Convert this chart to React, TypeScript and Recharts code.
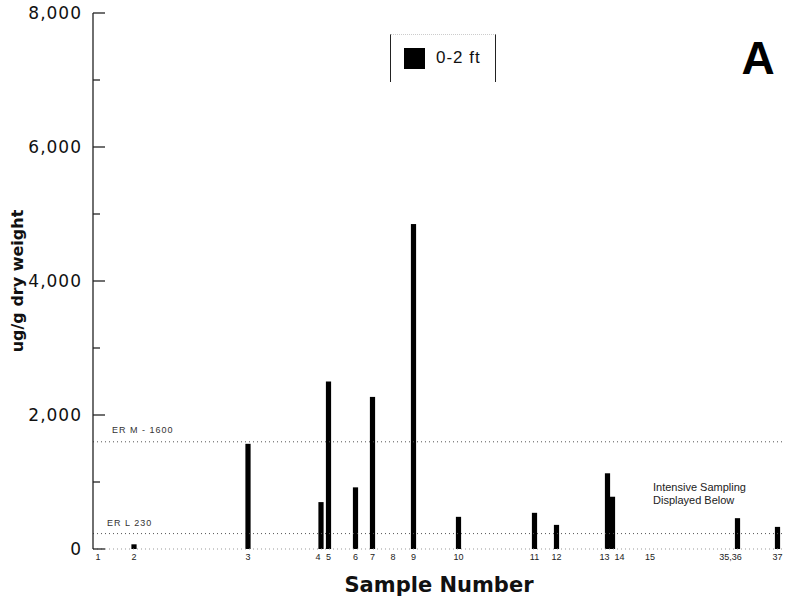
import React from "react"
import { Bar, ComposedChart, XAxis, YAxis, ReferenceLine, Legend } from "recharts"

// sample stations along the transect (distance units) and their labels
const sampleLabels = ["1", "2", "3", "4", "5", "6", "7", "8", "9", "10", "11", "12", "13", "14", "15", "35,36", "37"]
const sampleDistance = [5, 41, 155, 228, 235.5, 262.5, 279.5, 300, 320.5, 365.5, 441.5, 463.5, 514.5, 519.5, 557, 644.5, 684.5]
// concentration 0-2 ft, ug/g dry weight (null = no bar drawn)
const conc02ft = [null, 70, 1570, 700, 2500, 920, 2270, null, 4850, 480, 540, 360, 1130, 780, null, 460, 330]

const yTicks = [0, 1000, 2000, 3000, 4000, 5000, 6000, 7000, 8000]
const yTickLabels = ["0", "", "2,000", "", "4,000", "", "6,000", "", "8,000"]

const ERM = 1600
const ERL = 230

const data = sampleDistance.map((d, i) => ({
  dist: d,
  label: sampleLabels[i],
  value: conc02ft[i],
}))

const FONT = "'DejaVu Sans', 'Liberation Sans', Arial, sans-serif"
const ARIAL = "'Liberation Sans', Arial, sans-serif"

// small nudges so crowded labels don't collide
const labelNudge: Record<string, number> = { "4": -3, "13": -3, "14": 7, "35,36": -7 }

function YTick(props: any) {
  const { x, y, payload } = props
  const i = yTicks.indexOf(payload.value)
  const axisX = x + 11
  const major = payload.value % 2000 === 0
  return (
    <g>
      <line x1={axisX} x2={axisX + (major ? 12 : 7)} y1={y} y2={y} stroke="#222" strokeWidth={1.3} />
      {yTickLabels[i] ? (
        <text x={x} y={y + 6} textAnchor="end" fontSize={17} letterSpacing={1} fill="#111" fontFamily={FONT}>
          {yTickLabels[i]}
        </text>
      ) : null}
    </g>
  )
}

function XTick(props: any) {
  const { x, y, payload } = props
  const lbl = sampleLabels[sampleDistance.indexOf(payload.value)]
  return (
    <text x={x + (labelNudge[lbl] || 0)} y={y + 3} textAnchor="middle" fontSize={9} fill="#222" fontFamily={ARIAL}>
      {lbl}
    </text>
  )
}

function BarShape(props: any) {
  const { x, y, width, height } = props
  if (!height || height <= 0) return null
  const cx = x + width / 2
  return <rect x={cx - 2.6} y={y} width={5.2} height={height} fill="#000" />
}

function LegendBox() {
  return (
    <div
      style={{
        width: 106,
        height: 48,
        borderLeft: "1px solid #222",
        borderRight: "1px solid #222",
        borderTop: "1px dotted #ccc",
        boxSizing: "border-box",
        position: "relative",
        fontFamily: ARIAL,
      }}
    >
      <div style={{ position: "absolute", left: 13, top: 13, width: 21, height: 21, background: "#000" }} />
      <div style={{ position: "absolute", left: 45, top: 13, fontSize: 17, letterSpacing: 1, color: "#111" }}>0-2 ft</div>
    </div>
  )
}

export default function App() {
  return (
    <div style={{ position: "absolute", left: 0, top: 0, background: "#fff" }}>
      <ComposedChart width={791} height={602} data={data} margin={{ top: 13, right: 6, bottom: 0, left: 0 }}>
        <XAxis
          dataKey="dist"
          type="number"
          domain={[0, 692]}
          ticks={sampleDistance}
          interval={0}
          height={53}
          axisLine={{ stroke: "#999", strokeDasharray: "1 3" }}
          tickLine={false}
          tick={<XTick />}
          label={{
            value: "Sample Number",
            position: "insideBottom",
            offset: 10,
            fontSize: 21,
            fontWeight: "bold",
            fill: "#111",
            fontFamily: FONT,
          }}
        />
        <YAxis
          type="number"
          domain={[0, 8000]}
          ticks={yTicks}
          interval={0}
          width={93}
          tickSize={0}
          tickMargin={11}
          axisLine={{ stroke: "#222", strokeWidth: 1.3 }}
          tickLine={false}
          tick={<YTick />}
          label={{
            value: "ug/g dry weight",
            angle: -90,
            position: "insideLeft",
            offset: 17,
            fontSize: 16,
            fontWeight: "bold",
            fill: "#111",
            fontFamily: FONT,
            style: { textAnchor: "middle" },
          }}
        />
        <Legend
          layout="vertical"
          align="center"
          verticalAlign="middle"
          wrapperStyle={{ left: 390, top: 34, width: 106 }}
          content={() => <LegendBox />}
        />
        <ReferenceLine
          y={ERM}
          stroke="#555"
          strokeDasharray="1 3"
          label={(p: any) => (
            <text x={p.viewBox.x + 19} y={p.viewBox.y - 9} fontSize={9} letterSpacing={1} fill="#333" fontFamily={ARIAL}>
              ER M - 1600
            </text>
          )}
        />
        <ReferenceLine
          y={ERL}
          stroke="#555"
          strokeDasharray="1 3"
          label={(p: any) => (
            <text x={p.viewBox.x + 14} y={p.viewBox.y - 8} fontSize={9} letterSpacing={1} fill="#333" fontFamily={ARIAL}>
              ER L   230
            </text>
          )}
        />
        <Bar dataKey="value" name="0-2 ft" fill="#000" barSize={5} shape={<BarShape />} isAnimationActive={false} />
        <text x={758} y={74} textAnchor="middle" fontSize={46} fontWeight="bold" fill="#000" fontFamily={ARIAL}>
          A
        </text>
        <text x={653} y={491} fontSize={11} fill="#222" fontFamily={ARIAL}>
          Intensive Sampling
        </text>
        <text x={653} y={504} fontSize={11} fill="#222" fontFamily={ARIAL}>
          Displayed Below
        </text>
      </ComposedChart>
    </div>
  )
}
